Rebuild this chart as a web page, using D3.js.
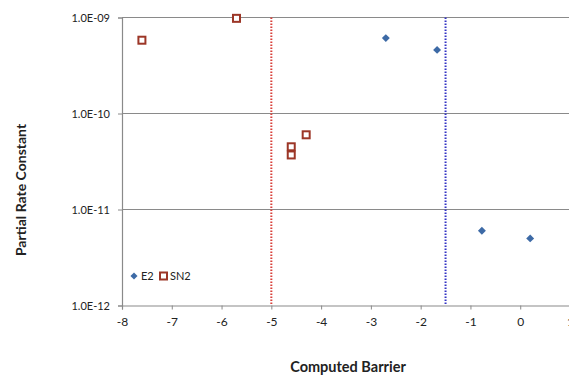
<!DOCTYPE html>
<html>
<head>
<meta charset="utf-8">
<script src="https://cdn.jsdelivr.net/npm/d3@7"></script>
<style>
  body { margin: 0; background: #fff; }
  svg text { font-family: Lato, "Open Sans", sans-serif; fill: #222; }
</style>
</head>
<body>
<svg id="chart" width="569" height="375"></svg>
<script>
// E2 series (diamonds)
const e2Barrier = [-2.7, -1.67, -0.77, 0.2];
const e2Rate = [6.1e-10, 4.6e-10, 6.0e-12, 5.0e-12];

// SN2 series (hollow squares)
const sn2Barrier = [-7.6, -5.7, -4.6, -4.6, -4.3];
const sn2Rate = [5.8e-10, 9.8e-10, 4.5e-11, 3.7e-11, 6.0e-11];

// reference lines
const refLines = [-5, -1.5];
const refColors = ["#d9403a", "#3333c4"];

const xTicks = [-8, -7, -6, -5, -4, -3, -2, -1, 0, 1];
const yTicks = [1e-12, 1e-11, 1e-10, 1e-9];
const yTickLabels = ["1.0E-12", "1.0E-11", "1.0E-10", "1.0E-09"];

const svg = d3.select("#chart");

const xScale = d3.scaleLinear().domain([-8, 1]).range([122, 570]);
const yScale = d3.scaleLog().domain([1e-12, 1e-9]).range([305.5, 17.5]);

// horizontal gridlines
svg.append("g")
  .selectAll("line")
  .data(yTicks.slice(1))
  .join("line")
  .attr("x1", xScale(-8))
  .attr("x2", xScale(1))
  .attr("y1", d => yScale(d))
  .attr("y2", d => yScale(d))
  .attr("stroke", "#8a8a8a")
  .attr("stroke-width", 1.2);

// axes
const xAxis = svg.append("g")
  .attr("transform", `translate(0,${yScale(1e-12)})`)
  .call(d3.axisBottom(xScale).tickValues(xTicks).tickSize(4).tickPadding(8).tickFormat(d => String(d)));
xAxis.select(".domain").attr("stroke", "#8a8a8a").attr("stroke-width", 1.2);
xAxis.selectAll(".tick line").attr("stroke", "#8a8a8a");
xAxis.selectAll("text").style("font-size", "12px").attr("fill", "#222");

const yAxis = svg.append("g")
  .attr("transform", `translate(${xScale(-8)},0)`)
  .call(d3.axisLeft(yScale).tickValues(yTicks).tickSize(4).tickPadding(8)
    .tickFormat((d, i) => yTickLabels[i]));
yAxis.select(".domain").attr("stroke", "#8a8a8a").attr("stroke-width", 1.2);
yAxis.selectAll(".tick line").attr("stroke", "#8a8a8a");
yAxis.selectAll("text").style("font-size", "11px").attr("fill", "#222");

// dotted reference lines
svg.append("g")
  .selectAll("line")
  .data(refLines)
  .join("line")
  .attr("x1", d => xScale(d))
  .attr("x2", d => xScale(d))
  .attr("y1", yScale(1e-9))
  .attr("y2", yScale(1e-12))
  .attr("stroke", (d, i) => refColors[i])
  .attr("stroke-width", 2)
  .attr("stroke-dasharray", "1.5,1.5");

// E2 diamonds
const e2 = e2Barrier.map((b, i) => ({ b, r: e2Rate[i] }));
svg.append("g")
  .selectAll("path")
  .data(e2)
  .join("path")
  .attr("d", d3.symbol(d3.symbolDiamond2, 40))
  .attr("transform", d => `translate(${xScale(d.b)},${yScale(d.r)})`)
  .attr("fill", "#3d6aa6");

// SN2 squares
const sn2 = sn2Barrier.map((b, i) => ({ b, r: sn2Rate[i] }));
svg.append("g")
  .selectAll("rect")
  .data(sn2)
  .join("rect")
  .attr("x", d => xScale(d.b) - 3.5)
  .attr("y", d => yScale(d.r) - 3.5)
  .attr("width", 7)
  .attr("height", 7)
  .attr("fill", "#fff")
  .attr("stroke", "#9c3627")
  .attr("stroke-width", 2);

// legend
const legend = svg.append("g").attr("transform", "translate(134,276)");
legend.append("path")
  .attr("d", d3.symbol(d3.symbolDiamond2, 32))
  .attr("fill", "#3d6aa6");
legend.append("text").attr("x", 7).attr("y", 4).style("font-size", "11px").text("E2");
legend.append("rect")
  .attr("x", 26).attr("y", -3.5).attr("width", 7).attr("height", 7)
  .attr("fill", "#fff").attr("stroke", "#9c3627").attr("stroke-width", 2);
legend.append("text").attr("x", 36).attr("y", 4).style("font-size", "11px").text("SN2");

// axis titles
svg.append("text")
  .attr("x", 348)
  .attr("y", 372)
  .attr("text-anchor", "middle")
  .style("font-size", "14.5px")
  .style("font-weight", "bold")
  .text("Computed Barrier");

svg.append("text")
  .attr("transform", "translate(26,190) rotate(-90)")
  .attr("text-anchor", "middle")
  .style("font-size", "14px")
  .style("font-weight", "bold")
  .text("Partial Rate Constant");
</script>
</body>
</html>
